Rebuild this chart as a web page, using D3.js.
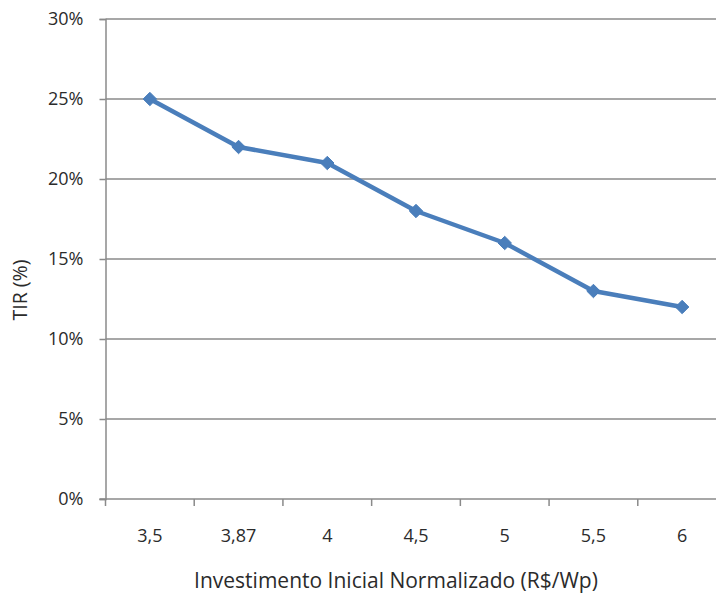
<!DOCTYPE html>
<html>
<head>
<meta charset="utf-8">
<script src="https://cdn.jsdelivr.net/npm/d3@7"></script>
<style>
  html, body { margin: 0; padding: 0; background: #fff; }
  svg { display: block; }
  text { font-family: "Open Sans", Lato, sans-serif; fill: #2b2b2b; }
</style>
</head>
<body>
<svg id="chart" width="716" height="600"></svg>
<script>
// Investimento inicial normalizado (R$/Wp) e TIR correspondente
const categories = ["3,5", "3,87", "4", "4,5", "5", "5,5", "6"];
const tirValues = [25, 22, 21, 18, 16, 13, 12];
const yTicks = [0, 5, 10, 15, 20, 25, 30];

const svg = d3.select("#chart");
const plotLeft = 105.5, plotRight = 726.5, plotTop = 19, plotBottom = 499;

const x = d3.scaleBand().domain(categories).range([plotLeft, plotRight]);
const y = d3.scaleLinear().domain([0, 30]).range([plotBottom, plotTop]);

// horizontal gridlines
svg.append("g")
  .selectAll("line")
  .data(yTicks.filter(d => d > 0))
  .join("line")
  .attr("x1", plotLeft).attr("x2", plotRight)
  .attr("y1", d => y(d)).attr("y2", d => y(d))
  .attr("stroke", "#8a8a8a").attr("stroke-width", 1.5);

// y axis
const yAxis = svg.append("g")
  .attr("transform", `translate(${plotLeft},0)`)
  .call(d3.axisLeft(y).tickValues(yTicks).tickFormat(d => d + "%").tickSize(6).tickPadding(16));
yAxis.select(".domain").attr("stroke", "#8a8a8a").attr("stroke-width", 1.5);
yAxis.selectAll(".tick line").attr("stroke", "#8a8a8a").attr("stroke-width", 1.5);
yAxis.selectAll(".tick text")
  .style("font-size", "18px")
  .style("font-family", "'Open Sans', sans-serif")
  .style("fill", "#2b2b2b");

// x axis with ticks at band boundaries
const xAxis = svg.append("g").attr("transform", `translate(0,${plotBottom})`);
xAxis.append("line")
  .attr("x1", plotLeft - 6).attr("x2", plotRight)
  .attr("stroke", "#8a8a8a").attr("stroke-width", 1.5);
xAxis.selectAll("line.tk")
  .data(categories)
  .join("line").attr("class", "tk")
  .attr("x1", d => x(d)).attr("x2", d => x(d))
  .attr("y1", 0).attr("y2", 7)
  .attr("stroke", "#8a8a8a").attr("stroke-width", 1.5);
xAxis.selectAll("text")
  .data(categories)
  .join("text")
  .attr("x", d => x(d) + x.bandwidth() / 2)
  .attr("y", 43)
  .attr("text-anchor", "middle")
  .style("font-size", "18px")
  .text(d => d);

// axis titles
svg.append("text")
  .attr("x", 396).attr("y", 588)
  .attr("text-anchor", "middle")
  .style("font-size", "21px")
  .text("Investimento Inicial Normalizado (R$/Wp)");

svg.append("text")
  .attr("transform", "translate(27,290) rotate(-90)")
  .attr("text-anchor", "middle")
  .style("font-size", "19.5px")
  .text("TIR (%)");

// series line
const cx = (d, i) => x(categories[i]) + x.bandwidth() / 2;
const line = d3.line().x(cx).y(d => y(d));
svg.append("path")
  .datum(tirValues)
  .attr("d", line)
  .attr("fill", "none")
  .attr("stroke", "#4a7ebb")
  .attr("stroke-width", 4.5)
  .attr("stroke-linejoin", "round");

// diamond markers
svg.append("g")
  .selectAll("path")
  .data(tirValues)
  .join("path")
  .attr("transform", (d, i) => `translate(${cx(d, i)},${y(d)})`)
  .attr("d", d3.symbol().type(d3.symbolDiamond2).size(115))
  .attr("fill", "#4a7ebb")
  .attr("stroke", "#4a7ebb")
  .attr("stroke-width", 1);
</script>
</body>
</html>
